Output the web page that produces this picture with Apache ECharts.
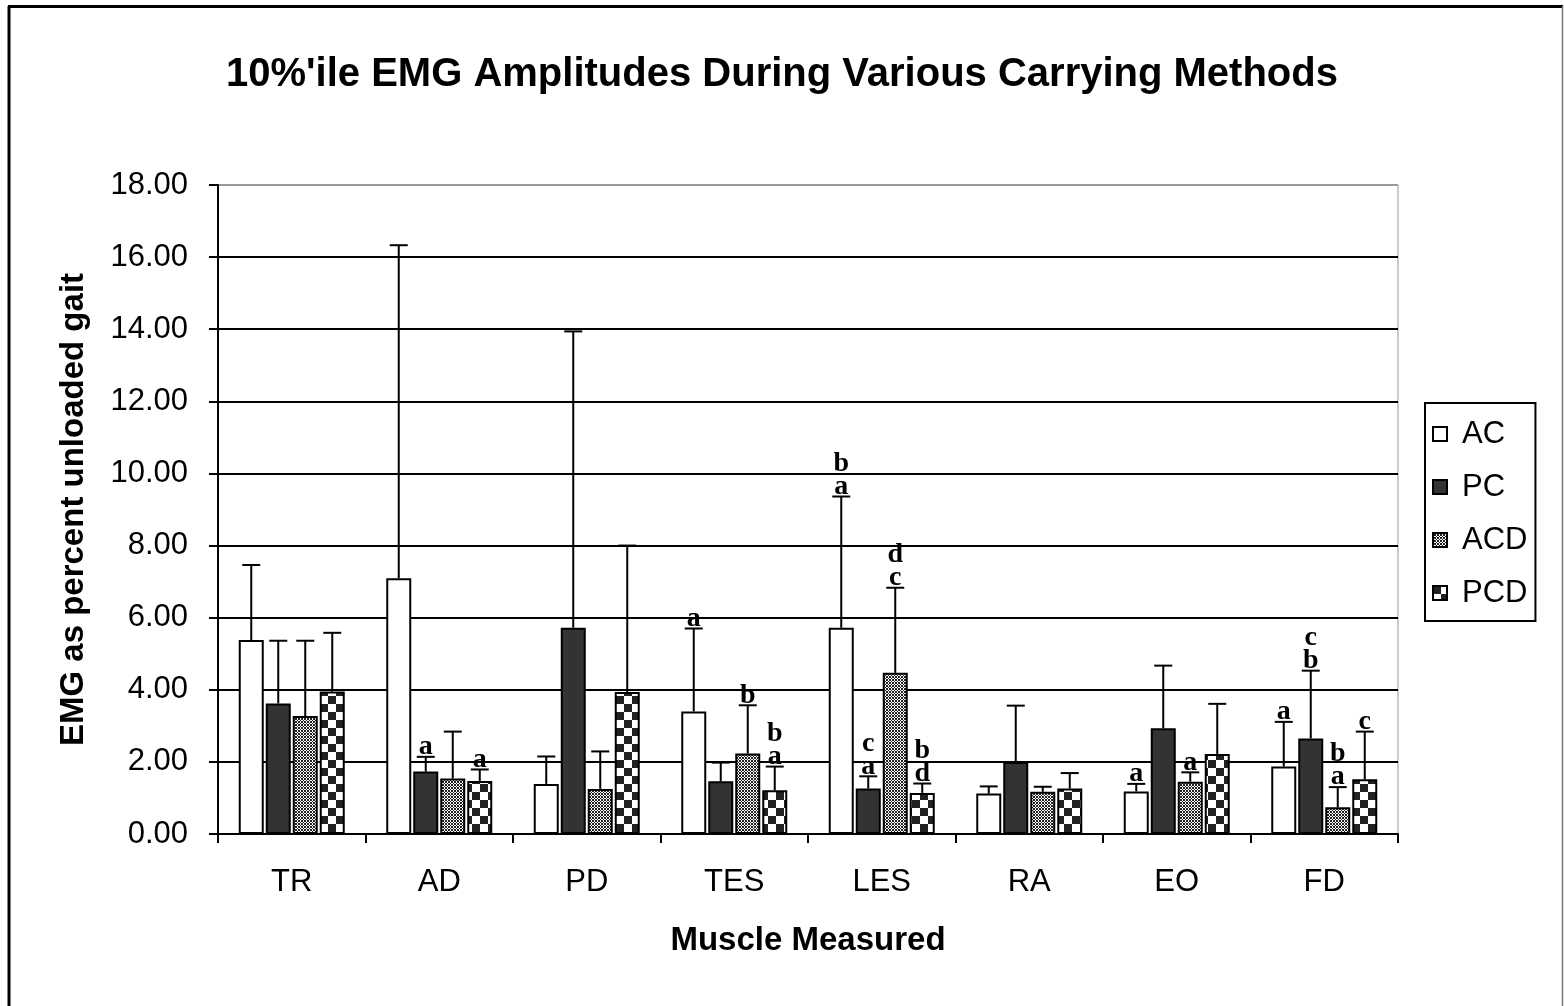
<!DOCTYPE html>
<html>
<head>
<meta charset="utf-8">
<script src="https://cdn.jsdelivr.net/npm/echarts@6/dist/echarts.min.js"></script>
<style>
html,body{margin:0;padding:0;background:#fff;}
#chart{width:1564px;height:1006px;}
</style>
</head>
<body>
<div id="chart"></div>
<script>
// ---- data ----
var categories = ['TR', 'AD', 'PD', 'TES', 'LES', 'RA', 'EO', 'FD'];
var seriesNames = ['AC', 'PC', 'ACD', 'PCD'];
var acValues  = [5.38, 7.09, 1.39, 3.40, 5.72, 1.12, 1.18, 1.87];
var pcValues  = [3.62, 1.73, 5.72, 1.46, 1.26, 2.00, 2.93, 2.65];
var acdValues = [3.27, 1.54, 1.25, 2.23, 4.47, 1.17, 1.45, 0.74];
var pcdValues = [3.95, 1.47, 3.94, 1.21, 1.14, 1.26, 2.22, 1.52];
// upper ends of error bars
var acErrTop  = [7.46, 16.33, 2.15, 5.70, 9.36, 1.32, 1.39, 3.11];
var pcErrTop  = [5.36, 2.14, 13.94, 1.98, 1.60, 3.56, 4.67, 4.53];
var acdErrTop = [5.36, 2.84, 2.29, 3.57, 6.83, 1.31, 1.71, 1.30];
var pcdErrTop = [5.58, 1.79, 8.00, 1.87, 1.40, 1.69, 3.61, 2.84];
// significance letters, stacked top-to-bottom
var acSig  = ['', '', '', 'a', 'ba', '', 'a', 'a'];
var pcSig  = ['', 'a', '', '', 'ca', '', '', 'cb'];
var acdSig = ['', '', '', 'b', 'dc', '', 'a', 'ba'];
var pcdSig = ['', 'a', '', 'ba', 'bd', '', '', 'c'];
var yTicks = [0, 2, 4, 6, 8, 10, 12, 14, 16, 18];
var titleText = "10%'ile EMG Amplitudes During Various Carrying Methods";
var xAxisTitle = 'Muscle Measured';
var yAxisTitle = 'EMG as percent unloaded gait';

// ---- patterns ----
function makePattern(size, drawFn) {
  var c = document.createElement('canvas');
  c.width = size; c.height = size;
  var ctx = c.getContext('2d');
  drawFn(ctx, size);
  return c;
}
var acdPattern = makePattern(6, function (ctx, s) {
  ctx.fillStyle = '#fff'; ctx.fillRect(0, 0, s, s);
  ctx.fillStyle = '#222';
  for (var x = 0; x < s; x++) for (var y = 0; y < s; y++) {
    if ((x + y) % 3 === 0 || (x - y + 6) % 3 === 0) ctx.fillRect(x, y, 1, 1);
  }
});
var pcdPattern = makePattern(16, function (ctx, s) {
  ctx.fillStyle = '#fff'; ctx.fillRect(0, 0, s, s);
  ctx.fillStyle = '#222';
  ctx.fillRect(0, 0, 8, 8); ctx.fillRect(8, 8, 8, 8);
});

var fills = ['#ffffff', '#333333', {image: acdPattern, repeat: 'repeat'}, {image: pcdPattern, repeat: 'repeat'}];
var values = [acValues, pcValues, acdValues, pcdValues];
var errTops = [acErrTop, pcErrTop, acdErrTop, pcdErrTop];
var sigs = [acSig, pcSig, acdSig, pcdSig];

var BAR_W = 25, BAR_STEP = 27;
var sans = '"Liberation Sans", Arial, sans-serif';
var serif = '"Liberation Serif", "Times New Roman", serif';

var series = [];
seriesNames.forEach(function (name, i) {
  series.push({
    name: name,
    type: 'bar',
    barWidth: BAR_W,
    barGap: '8%',
    data: values[i],
    itemStyle: {color: fills[i], borderColor: '#000', borderWidth: 2},
    z: 2
  });
});
seriesNames.forEach(function (name, i) {
  var offset = (i - 1.5) * BAR_STEP;
  var sig = sigs[i];
  series.push({
    name: name + ' err',
    type: 'custom',
    z: 5,
    silent: true,
    data: categories.map(function (c, k) { return [k, values[i][k], errTops[i][k]]; }),
    renderItem: function (params, api) {
      var k = api.value(0);
      var p0 = api.coord([k, api.value(1)]);
      var p1 = api.coord([k, api.value(2)]);
      var x = p0[0] + offset;
      var children = [
        {type: 'line', shape: {x1: x, y1: p0[1], x2: x, y2: p1[1]}, style: {stroke: '#000', lineWidth: 2}},
        {type: 'line', shape: {x1: x - 9, y1: p1[1], x2: x + 9, y2: p1[1]}, style: {stroke: '#000', lineWidth: 2}}
      ];
      var letters = sig[params.dataIndex] || '';
      var n = letters.length;
      for (var j = 0; j < n; j++) {
        var fromBottom = n - 1 - j;
        children.push({
          type: 'text',
          x: x,
          y: p1[1] + 4 - fromBottom * 23,
          style: {
            text: letters[j],
            fill: '#000',
            fontSize: 28,
            fontWeight: 'bold',
            fontFamily: serif,
            align: 'center',
            verticalAlign: 'bottom'
          }
        });
      }
      return {type: 'group', children: children};
    }
  });
});

var splitColors = yTicks.map(function (t, i) { return i === yTicks.length - 1 ? '#999' : '#000'; });

var chart = echarts.init(document.getElementById('chart'), null, {renderer: 'canvas'});
chart.setOption({
  backgroundColor: '#fff',
  animation: false,
  title: {
    text: titleText,
    left: 'center',
    top: 50,
    textStyle: {fontFamily: sans, fontWeight: 'bold', fontSize: 40, color: '#000'}
  },
  legend: {
    data: seriesNames,
    orient: 'vertical',
    left: 1425,
    top: 403,
    padding: [15, 8, 12, 7],
    itemGap: 21,
    itemWidth: 14,
    itemHeight: 14,
    borderColor: '#000',
    borderWidth: 2,
    icon: 'rect',
    textStyle: {fontFamily: sans, fontSize: 31, color: '#000', lineHeight: 32, padding: [0, 0, 0, 10]}
  },
  grid: {left: 218, right: 166, top: 185, bottom: 172, show: true, borderColor: '#999', borderWidth: 1, backgroundColor: '#fff'},
  xAxis: {
    type: 'category',
    data: categories,
    name: xAxisTitle,
    nameLocation: 'middle',
    nameGap: 90,
    nameTextStyle: {fontFamily: sans, fontWeight: 'bold', fontSize: 33, color: '#000'},
    axisLine: {lineStyle: {color: '#000', width: 2}},
    axisTick: {show: true, length: 9, lineStyle: {color: '#000', width: 2}},
    axisLabel: {fontFamily: sans, fontSize: 31, color: '#000', margin: 33},
    splitLine: {show: false}
  },
  yAxis: {
    type: 'value',
    min: 0,
    max: 18,
    interval: 2,
    name: yAxisTitle,
    nameLocation: 'middle',
    nameGap: 128,
    nameRotate: 90,
    nameTextStyle: {fontFamily: sans, fontWeight: 'bold', fontSize: 33, color: '#000'},
    axisLine: {show: true, lineStyle: {color: '#000', width: 2}},
    axisTick: {show: true, length: 9, lineStyle: {color: '#000', width: 2}},
    axisLabel: {fontFamily: sans, fontSize: 31, color: '#000', margin: 30, formatter: function (v) { return v.toFixed(2); }},
    splitLine: {show: true, lineStyle: {color: splitColors, width: 2}}
  },
  graphic: [
    {type: 'line', shape: {x1: 9, y1: 6, x2: 9, y2: 1006}, style: {stroke: '#000', lineWidth: 3}, z: 100},
    {type: 'line', shape: {x1: 8, y1: 6.5, x2: 1563, y2: 6.5}, style: {stroke: '#000', lineWidth: 3}, z: 100},
    {type: 'line', shape: {x1: 1562.5, y1: 6, x2: 1562.5, y2: 1006}, style: {stroke: '#777', lineWidth: 1.5}, z: 100}
  ],
  series: series
});
</script>
</body>
</html>
